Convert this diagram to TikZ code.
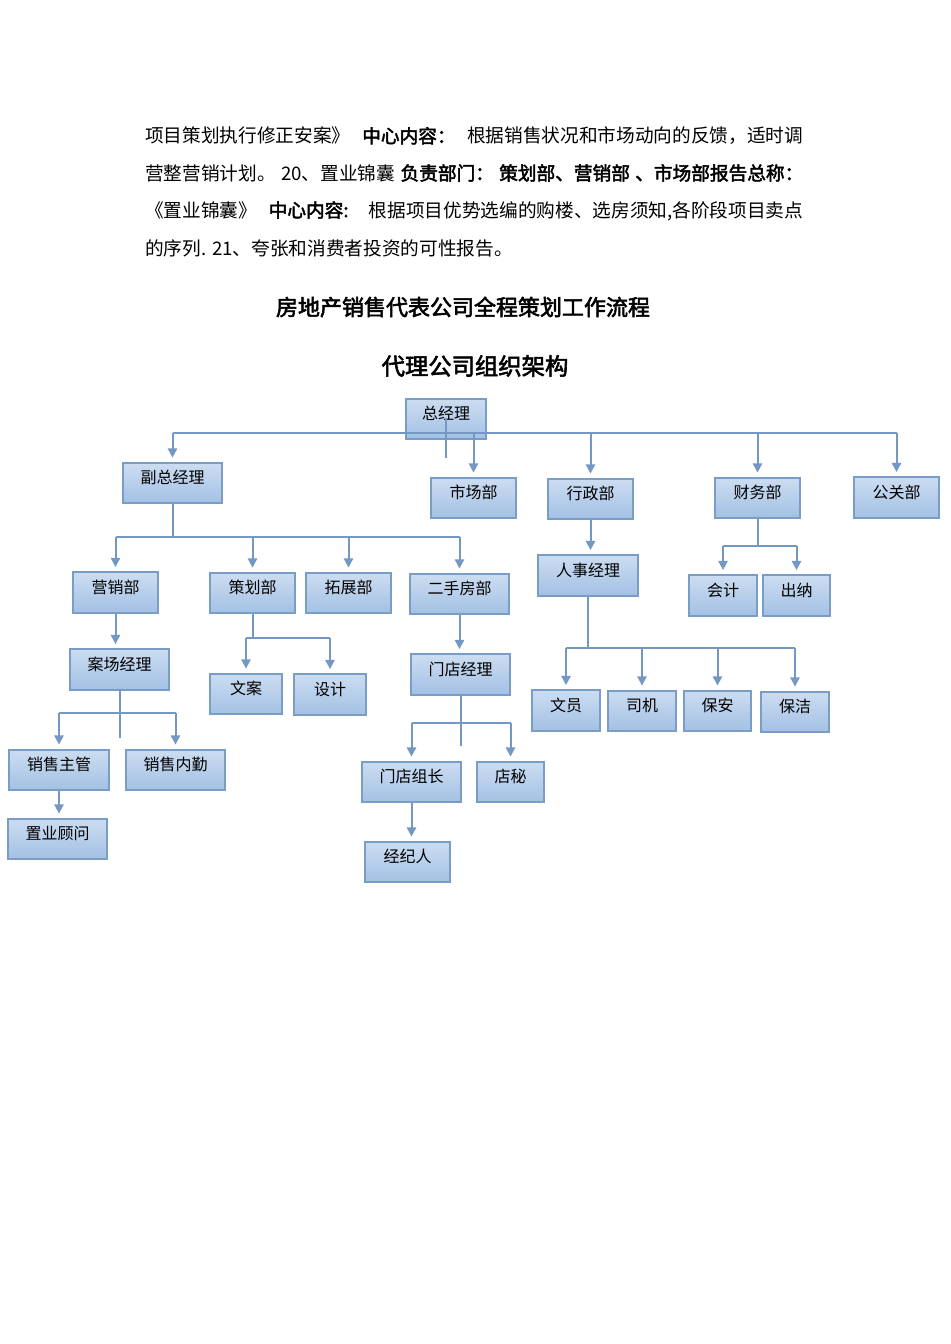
\documentclass[tikz,border=0pt]{standalone}
\usepackage{fontspec}
\setmainfont{Noto Sans CJK SC}[AutoFakeBold=2.5]
\XeTeXlinebreaklocale "zh"
\XeTeXlinebreakskip=0pt plus 1pt
\usetikzlibrary{arrows.meta,calc}
\definecolor{rimblue}{RGB}{122,157,198}
\definecolor{edgeblue}{RGB}{116,152,196}
\definecolor{topblue}{RGB}{204,221,241}
\definecolor{lowblue}{RGB}{163,192,228}
\newcommand{\bodyfont}{\fontsize{14pt}{17pt}\selectfont}

\begin{document}
\begin{tikzpicture}[x=0.75pt,y=-0.75pt,>={Triangle[width=7pt,length=7pt]},
    post/.style={draw=rimblue,line width=1.6pt,top color=topblue,bottom color=lowblue,
      minimum width=#1*0.75pt,minimum height=30.5pt,inner sep=0pt,
      text height=10pt,text depth=9pt,font=\fontsize{12pt}{14pt}\selectfont},
    post/.default=85,
    line/.style={anchor=west,inner sep=0pt,font=\bodyfont},
    link/.style={draw=edgeblue,line width=1.5pt},
    arr/.style={link,->,shorten >=3pt}]
  \useasboundingbox (0,0) rectangle (950,1344);
  % text above the chart
  \node[line] (l1) at (145,136) {\makebox[493.5pt][s]{项目策划执行修正安案》 \textbf{中心内容：} 根据销售状况和市场动向的反馈，适时调}};
  \node[line] (l2) at (145,173) {\makebox[493.5pt][s]{营整营销计划。 20、置业锦囊 \textbf{负责部门： 策划部、营销部 、市场部报告总称：}}};
  \node[line] (l3) at (145,211) {\makebox[493.5pt][s]{《置业锦囊》 \textbf{中心内容:} 根据项目优势选编的购楼、选房须知,各阶段项目卖点}};
  \node[line] (l4) at (145,248) {的序列. 21、夸张和消费者投资的可性报告。};
  \node[font=\fontsize{16.5pt}{20pt}\selectfont\bfseries] (title) at (463,307) {房地产销售代表公司全程策划工作流程};
  \node[font=\fontsize{17.5pt}{21pt}\selectfont\bfseries] (subtitle) at (475,366) {代理公司组织架构};

  % posts
  \node[post=80] (gm) at (446,419) {总经理};
  \node[post=99] (vgm) at (172.5,483) {副总经理};
  \node[post] (mkt) at (473.5,498) {市场部};
  \node[post] (adm) at (590.5,499) {行政部};
  \node[post] (fin) at (757.5,498) {财务部};
  \node[post] (pr) at (896.5,497.5) {公关部};
  \node[post] (sales) at (115.5,592.5) {营销部};
  \node[post] (plan) at (252.5,593) {策划部};
  \node[post] (ext) at (348.5,593) {拓展部};
  \node[post=99] (resale) at (459.5,594) {二手房部};
  \node[post=100] (hr) at (588,575.5) {人事经理};
  \node[post=68] (acct) at (723,595.5) {会计};
  \node[post=67] (cash) at (796.5,595.5) {出纳};
  \node[post=99] (site) at (119.5,669.5) {案场经理};
  \node[post=72] (copy) at (246,694) {文案};
  \node[post=72] (design) at (330,694.5) {设计};
  \node[post=99] (store) at (460.5,674.5) {门店经理};
  \node[post=68] (clerk) at (566,710.5) {文员};
  \node[post=68] (driver) at (642,711) {司机};
  \node[post=67] (guard) at (717.5,711) {保安};
  \node[post=68] (clean) at (795,712) {保洁};
  \node[post=100] (lead) at (59,770) {销售主管};
  \node[post=99] (desk) at (175.5,770) {销售内勤};
  \node[post=99] (team) at (411.5,782) {门店组长};
  \node[post=67] (sec) at (510.5,782) {店秘};
  \node[post=99] (adv) at (57.5,839) {置业顾问};
  \node[post] (agent) at (407.5,862) {经纪人};

  % bus levels
  \coordinate (busA) at (0,433);
  \coordinate (gmTail) at (0,458);
  \coordinate (busB) at (0,537);
  \coordinate (busC) at (0,713);
  \coordinate (siteTail) at (0,738);
  \coordinate (busD) at (0,638);
  \coordinate (busE) at (0,648);
  \coordinate (busF) at (0,546);
  \coordinate (busG) at (0,723);
  \coordinate (storeTail) at (0,746);

  % general manager
  \draw[link] (gm.center) -- (gm.center |- gmTail);
  \draw[link] (busA -| vgm) -- (busA -| pr);
  \foreach \p in {vgm,mkt,adm,fin,pr}
    \draw[arr] (busA -| \p) -- (\p);

  % deputy
  \draw[link] (vgm) -- (vgm |- busB);
  \draw[link] (busB -| sales) -- (busB -| resale);
  \foreach \p in {sales,plan,ext,resale}
    \draw[arr] (busB -| \p) -- (\p);

  \draw[arr] (sales) -- (sales |- site.north);
  \draw[link] (site) -- (site |- siteTail);
  \draw[link] (busC -| lead) -- (busC -| desk);
  \foreach \p in {lead,desk}
    \draw[arr] (busC -| \p) -- (\p);
  \draw[arr] (lead) -- (lead |- adv.north);

  \draw[link] (plan) -- (plan |- busD);
  \draw[link] (busD -| copy) -- (busD -| design);
  \foreach \p in {copy,design}
    \draw[arr] (busD -| \p) -- (\p);

  \draw[arr] (resale) -- (resale |- store.north);
  \draw[link] (store) -- (store |- storeTail);
  \draw[link] (busG -| team) -- (busG -| sec);
  \foreach \p in {team,sec}
    \draw[arr] (busG -| \p) -- (\p);
  \draw[arr] (team) -- (team |- agent.north);

  % admin and finance
  \draw[arr] (adm) -- (adm |- hr.north);
  \draw[link] (hr) -- (hr |- busE);
  \draw[link] (busE -| clerk) -- (busE -| clean);
  \foreach \p in {clerk,driver,guard,clean}
    \draw[arr] (busE -| \p) -- (\p);

  \draw[link] (fin) -- (fin |- busF);
  \draw[link] (busF -| acct) -- (busF -| cash);
  \foreach \p in {acct,cash}
    \draw[arr] (busF -| \p) -- (\p);
\end{tikzpicture}
\end{document}
